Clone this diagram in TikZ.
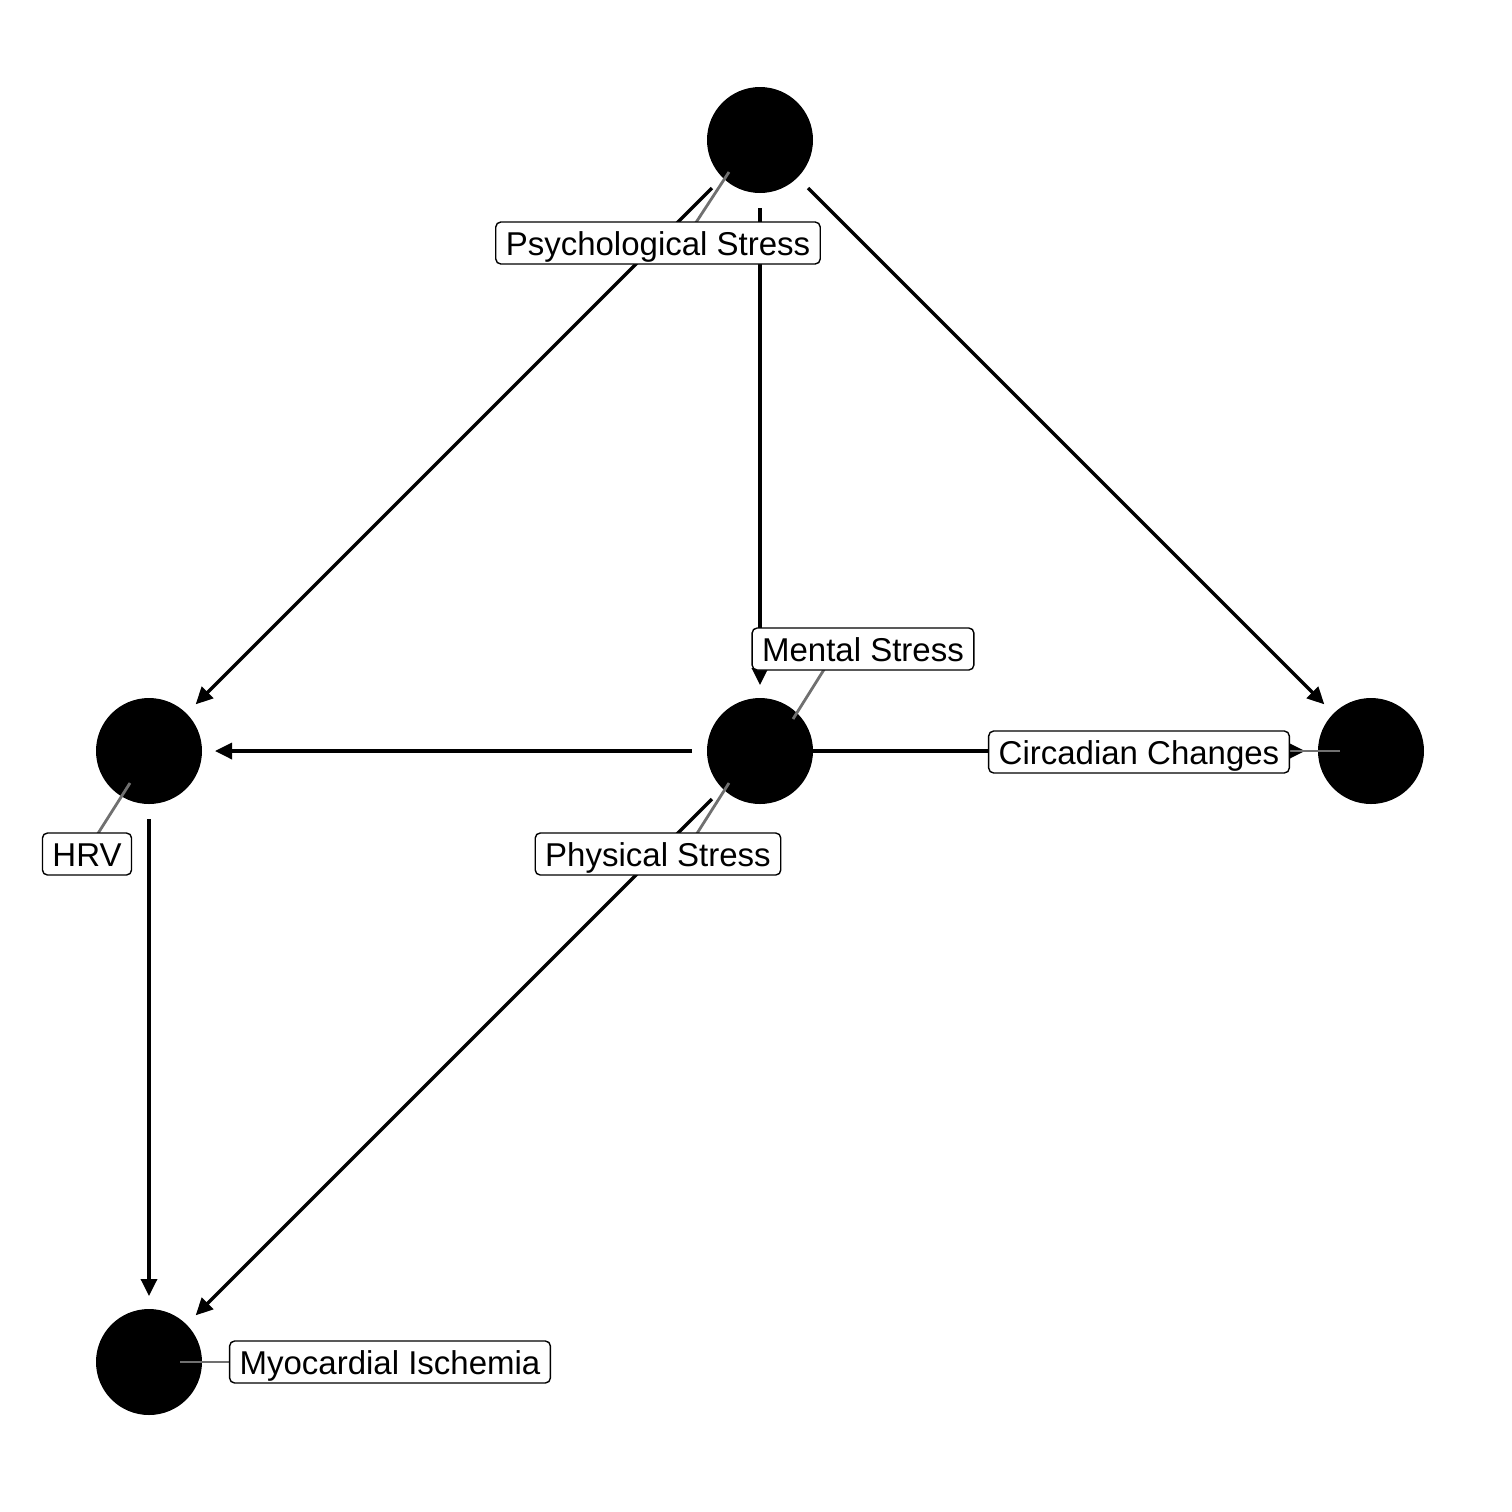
\documentclass[tikz,border=0pt]{standalone}
\usepackage{fontspec}
\setmainfont{Liberation Sans}
\usetikzlibrary{arrows.meta}
\begin{document}
\begin{tikzpicture}[x=0.5pt,y=-0.5pt,
  dagnode/.style={circle,fill=black,minimum size=53pt,inner sep=0pt},
  edge/.style={line width=1.7pt,-{Triangle[length=8.5pt,width=8pt]},shorten >=33pt,shorten <=34pt},
  leader/.style={line width=1.4pt,draw={rgb,255:red,112;green,112;blue,112}},
  lbl/.style={draw=black,fill=white,line width=0.7pt,rounded corners=2.5pt,font=\fontsize{16.5pt}{18pt}\selectfont,inner xsep=5pt,inner ysep=0pt,minimum height=21pt,text height=13.5pt,text depth=1.5pt}]
\useasboundingbox (0,0) rectangle (1512,1512);
% node centres
\coordinate (cPS) at (760,140);
\coordinate (cHRV) at (149,751);
\coordinate (cMS) at (760,751);
\coordinate (cCC) at (1371,751);
\coordinate (cMI) at (149,1362);
% edges
\draw[edge] (cPS) -- (cHRV);
\draw[edge] (cPS) -- (cMS);
\draw[edge] (cPS) -- (cCC);
\draw[edge] (cMS) -- (cHRV);
\draw[edge,shorten <=0pt] (cMS) -- (cCC);
\draw[edge] (cMS) -- (cMI);
\draw[edge] (cHRV) -- (cMI);
% circles
\node[dagnode] (PS) at (cPS) {};
\node[dagnode] (HRV) at (cHRV) {};
\node[dagnode] (MS) at (cMS) {};
\node[dagnode] (CC) at (cCC) {};
\node[dagnode] (MI) at (cMI) {};
% leaders
\coordinate (aPS) at (729,172);   \coordinate (bPS) at (695,224);
\coordinate (aMS) at (793,719);   \coordinate (bMS) at (825,668);
\coordinate (aCC) at (1340,751);  \coordinate (bCC) at (1290,751);
\coordinate (aHRV) at (130,783);  \coordinate (bHRV) at (97,835);
\coordinate (aPhS) at (729,783);  \coordinate (bPhS) at (696,835);
\coordinate (aMI) at (180,1362);  \coordinate (bMI) at (230,1362);
\draw[leader] (aPS) -- (bPS);
\draw[leader] (aMS) -- (bMS);
\draw[leader] (aCC) -- (bCC);
\draw[leader] (aHRV) -- (bHRV);
\draw[leader] (aPhS) -- (bPhS);
\draw[leader] (aMI) -- (bMI);
% labels
\node[lbl] (lPS) at (658,243) {Psychological Stress};
\node[lbl] (lMS) at (863,649) {Mental Stress};
\node[lbl] (lCC) at (1139,752) {Circadian Changes};
\node[lbl] (lHRV) at (87,854) {HRV};
\node[lbl] (lPhS) at (658,854) {Physical Stress};
\node[lbl] (lMI) at (390,1362) {Myocardial Ischemia};
\end{tikzpicture}
\end{document}
